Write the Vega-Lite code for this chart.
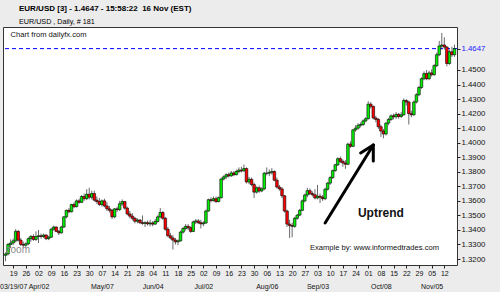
{
  "$schema": "https://vega.github.io/schema/vega-lite/v6.json",
  "width": 454,
  "height": 238,
  "autosize": "none",
  "padding": {"left": 3, "top": 27, "right": 43, "bottom": 27},
  "background": "#ececec",
  "title": {
    "text": "EUR/USD [3] - 1.4647 - 15:58:22\u00a0 16 Nov (EST)",
    "subtitle": "EUR/USD , Daily, # 181",
    "anchor": "start",
    "frame": "group",
    "offset": 2,
    "dx": 16,
    "font": "Liberation Sans",
    "fontSize": 8,
    "fontWeight": "bold",
    "color": "#000000",
    "subtitleFont": "Liberation Sans",
    "subtitleFontSize": 7.2,
    "subtitleColor": "#000000",
    "subtitlePadding": 5
  },
  "datasets": {
    "candles": [
      {"d":"2007-03-14","o":1.3225,"h":1.3245,"l":1.3185,"c":1.3235},
      {"d":"2007-03-15","o":1.3235,"h":1.3310,"l":1.3225,"c":1.3300},
      {"d":"2007-03-16","o":1.3300,"h":1.3335,"l":1.3275,"c":1.3310},
      {"d":"2007-03-19","o":1.3310,"h":1.3340,"l":1.3295,"c":1.3325},
      {"d":"2007-03-20","o":1.3325,"h":1.3405,"l":1.3315,"c":1.3390},
      {"d":"2007-03-21","o":1.3390,"h":1.3400,"l":1.3320,"c":1.3330},
      {"d":"2007-03-22","o":1.3330,"h":1.3345,"l":1.3290,"c":1.3300},
      {"d":"2007-03-23","o":1.3300,"h":1.3320,"l":1.3280,"c":1.3295},
      {"d":"2007-03-26","o":1.3295,"h":1.3315,"l":1.3280,"c":1.3305},
      {"d":"2007-03-27","o":1.3305,"h":1.3350,"l":1.3295,"c":1.3340},
      {"d":"2007-03-28","o":1.3340,"h":1.3365,"l":1.3320,"c":1.3355},
      {"d":"2007-03-29","o":1.3355,"h":1.3370,"l":1.3325,"c":1.3335},
      {"d":"2007-03-30","o":1.3335,"h":1.3390,"l":1.3325,"c":1.3355},
      {"d":"2007-04-02","o":1.3355,"h":1.3400,"l":1.3310,"c":1.3360},
      {"d":"2007-04-03","o":1.3360,"h":1.3375,"l":1.3340,"c":1.3355},
      {"d":"2007-04-04","o":1.3355,"h":1.3375,"l":1.3345,"c":1.3365},
      {"d":"2007-04-05","o":1.3365,"h":1.3370,"l":1.3330,"c":1.3340},
      {"d":"2007-04-06","o":1.3340,"h":1.3360,"l":1.3330,"c":1.3350},
      {"d":"2007-04-09","o":1.3350,"h":1.3415,"l":1.3345,"c":1.3405},
      {"d":"2007-04-10","o":1.3405,"h":1.3430,"l":1.3395,"c":1.3420},
      {"d":"2007-04-11","o":1.3420,"h":1.3425,"l":1.3385,"c":1.3390},
      {"d":"2007-04-12","o":1.3390,"h":1.3400,"l":1.3365,"c":1.3380},
      {"d":"2007-04-13","o":1.3380,"h":1.3430,"l":1.3375,"c":1.3420},
      {"d":"2007-04-16","o":1.3420,"h":1.3495,"l":1.3415,"c":1.3490},
      {"d":"2007-04-17","o":1.3490,"h":1.3540,"l":1.3480,"c":1.3535},
      {"d":"2007-04-18","o":1.3535,"h":1.3550,"l":1.3515,"c":1.3525},
      {"d":"2007-04-19","o":1.3525,"h":1.3580,"l":1.3520,"c":1.3575},
      {"d":"2007-04-20","o":1.3575,"h":1.3590,"l":1.3550,"c":1.3560},
      {"d":"2007-04-23","o":1.3560,"h":1.3610,"l":1.3555,"c":1.3600},
      {"d":"2007-04-24","o":1.3600,"h":1.3615,"l":1.3580,"c":1.3590},
      {"d":"2007-04-25","o":1.3590,"h":1.3640,"l":1.3585,"c":1.3630},
      {"d":"2007-04-26","o":1.3630,"h":1.3650,"l":1.3600,"c":1.3615},
      {"d":"2007-04-27","o":1.3615,"h":1.3680,"l":1.3605,"c":1.3645},
      {"d":"2007-04-30","o":1.3645,"h":1.3690,"l":1.3610,"c":1.3625},
      {"d":"2007-05-01","o":1.3625,"h":1.3670,"l":1.3610,"c":1.3650},
      {"d":"2007-05-02","o":1.3650,"h":1.3670,"l":1.3595,"c":1.3605},
      {"d":"2007-05-03","o":1.3605,"h":1.3630,"l":1.3580,"c":1.3595},
      {"d":"2007-05-04","o":1.3595,"h":1.3620,"l":1.3565,"c":1.3575},
      {"d":"2007-05-07","o":1.3575,"h":1.3610,"l":1.3560,"c":1.3600},
      {"d":"2007-05-08","o":1.3600,"h":1.3615,"l":1.3555,"c":1.3565},
      {"d":"2007-05-09","o":1.3565,"h":1.3590,"l":1.3530,"c":1.3545},
      {"d":"2007-05-10","o":1.3545,"h":1.3565,"l":1.3520,"c":1.3535},
      {"d":"2007-05-11","o":1.3535,"h":1.3545,"l":1.3475,"c":1.3490},
      {"d":"2007-05-14","o":1.3490,"h":1.3550,"l":1.3480,"c":1.3545},
      {"d":"2007-05-15","o":1.3545,"h":1.3560,"l":1.3525,"c":1.3540},
      {"d":"2007-05-16","o":1.3540,"h":1.3600,"l":1.3530,"c":1.3580},
      {"d":"2007-05-17","o":1.3580,"h":1.3610,"l":1.3565,"c":1.3595},
      {"d":"2007-05-18","o":1.3595,"h":1.3600,"l":1.3540,"c":1.3550},
      {"d":"2007-05-21","o":1.3550,"h":1.3560,"l":1.3500,"c":1.3510},
      {"d":"2007-05-22","o":1.3510,"h":1.3530,"l":1.3480,"c":1.3495},
      {"d":"2007-05-23","o":1.3495,"h":1.3515,"l":1.3465,"c":1.3480},
      {"d":"2007-05-24","o":1.3480,"h":1.3490,"l":1.3445,"c":1.3460},
      {"d":"2007-05-25","o":1.3460,"h":1.3480,"l":1.3445,"c":1.3468},
      {"d":"2007-05-28","o":1.3468,"h":1.3475,"l":1.3440,"c":1.3450},
      {"d":"2007-05-29","o":1.3450,"h":1.3500,"l":1.3435,"c":1.3445},
      {"d":"2007-05-30","o":1.3445,"h":1.3460,"l":1.3420,"c":1.3450},
      {"d":"2007-05-31","o":1.3450,"h":1.3465,"l":1.3430,"c":1.3442},
      {"d":"2007-06-01","o":1.3442,"h":1.3470,"l":1.3425,"c":1.3448},
      {"d":"2007-06-04","o":1.3448,"h":1.3460,"l":1.3425,"c":1.3440},
      {"d":"2007-06-05","o":1.3440,"h":1.3475,"l":1.3435,"c":1.3458},
      {"d":"2007-06-06","o":1.3458,"h":1.3500,"l":1.3450,"c":1.3490},
      {"d":"2007-06-07","o":1.3490,"h":1.3550,"l":1.3480,"c":1.3520},
      {"d":"2007-06-08","o":1.3520,"h":1.3530,"l":1.3470,"c":1.3480},
      {"d":"2007-06-11","o":1.3480,"h":1.3490,"l":1.3395,"c":1.3405},
      {"d":"2007-06-12","o":1.3405,"h":1.3420,"l":1.3350,"c":1.3360},
      {"d":"2007-06-13","o":1.3360,"h":1.3380,"l":1.3335,"c":1.3345},
      {"d":"2007-06-14","o":1.3345,"h":1.3365,"l":1.3265,"c":1.3330},
      {"d":"2007-06-15","o":1.3330,"h":1.3345,"l":1.3300,"c":1.3318},
      {"d":"2007-06-18","o":1.3318,"h":1.3335,"l":1.3295,"c":1.3325},
      {"d":"2007-06-19","o":1.3325,"h":1.3395,"l":1.3320,"c":1.3385},
      {"d":"2007-06-20","o":1.3385,"h":1.3420,"l":1.3375,"c":1.3410},
      {"d":"2007-06-21","o":1.3410,"h":1.3440,"l":1.3395,"c":1.3425},
      {"d":"2007-06-22","o":1.3425,"h":1.3440,"l":1.3400,"c":1.3415},
      {"d":"2007-06-25","o":1.3415,"h":1.3425,"l":1.3380,"c":1.3390},
      {"d":"2007-06-26","o":1.3390,"h":1.3465,"l":1.3385,"c":1.3455},
      {"d":"2007-06-27","o":1.3455,"h":1.3475,"l":1.3440,"c":1.3462},
      {"d":"2007-06-28","o":1.3462,"h":1.3475,"l":1.3440,"c":1.3450},
      {"d":"2007-06-29","o":1.3450,"h":1.3470,"l":1.3410,"c":1.3442},
      {"d":"2007-07-02","o":1.3442,"h":1.3460,"l":1.3425,"c":1.3448},
      {"d":"2007-07-03","o":1.3448,"h":1.3540,"l":1.3440,"c":1.3530},
      {"d":"2007-07-04","o":1.3530,"h":1.3615,"l":1.3525,"c":1.3608},
      {"d":"2007-07-05","o":1.3608,"h":1.3625,"l":1.3590,"c":1.3602},
      {"d":"2007-07-06","o":1.3602,"h":1.3630,"l":1.3595,"c":1.3615},
      {"d":"2007-07-09","o":1.3615,"h":1.3630,"l":1.3585,"c":1.3595},
      {"d":"2007-07-10","o":1.3595,"h":1.3630,"l":1.3590,"c":1.3622},
      {"d":"2007-07-11","o":1.3622,"h":1.3760,"l":1.3615,"c":1.3750},
      {"d":"2007-07-12","o":1.3750,"h":1.3775,"l":1.3740,"c":1.3765},
      {"d":"2007-07-13","o":1.3765,"h":1.3790,"l":1.3750,"c":1.3780},
      {"d":"2007-07-16","o":1.3780,"h":1.3795,"l":1.3760,"c":1.3772},
      {"d":"2007-07-17","o":1.3772,"h":1.3805,"l":1.3765,"c":1.3792},
      {"d":"2007-07-18","o":1.3792,"h":1.3805,"l":1.3770,"c":1.3780},
      {"d":"2007-07-19","o":1.3780,"h":1.3815,"l":1.3775,"c":1.3802},
      {"d":"2007-07-20","o":1.3802,"h":1.3830,"l":1.3790,"c":1.3812},
      {"d":"2007-07-23","o":1.3812,"h":1.3835,"l":1.3795,"c":1.3806},
      {"d":"2007-07-24","o":1.3806,"h":1.3850,"l":1.3800,"c":1.3822},
      {"d":"2007-07-25","o":1.3822,"h":1.3830,"l":1.3720,"c":1.3730},
      {"d":"2007-07-26","o":1.3730,"h":1.3765,"l":1.3715,"c":1.3748},
      {"d":"2007-07-27","o":1.3748,"h":1.3760,"l":1.3700,"c":1.3712},
      {"d":"2007-07-30","o":1.3712,"h":1.3725,"l":1.3620,"c":1.3660},
      {"d":"2007-07-31","o":1.3660,"h":1.3700,"l":1.3650,"c":1.3690},
      {"d":"2007-08-01","o":1.3690,"h":1.3705,"l":1.3655,"c":1.3668},
      {"d":"2007-08-02","o":1.3668,"h":1.3695,"l":1.3660,"c":1.3682},
      {"d":"2007-08-03","o":1.3682,"h":1.3800,"l":1.3675,"c":1.3790},
      {"d":"2007-08-06","o":1.3790,"h":1.3830,"l":1.3775,"c":1.3790},
      {"d":"2007-08-07","o":1.3790,"h":1.3815,"l":1.3770,"c":1.3796},
      {"d":"2007-08-08","o":1.3796,"h":1.3825,"l":1.3780,"c":1.3802},
      {"d":"2007-08-09","o":1.3802,"h":1.3810,"l":1.3735,"c":1.3742},
      {"d":"2007-08-10","o":1.3742,"h":1.3760,"l":1.3685,"c":1.3695},
      {"d":"2007-08-13","o":1.3695,"h":1.3710,"l":1.3670,"c":1.3682},
      {"d":"2007-08-14","o":1.3682,"h":1.3695,"l":1.3620,"c":1.3635},
      {"d":"2007-08-15","o":1.3635,"h":1.3640,"l":1.3520,"c":1.3530},
      {"d":"2007-08-16","o":1.3530,"h":1.3540,"l":1.3420,"c":1.3440},
      {"d":"2007-08-17","o":1.3440,"h":1.3470,"l":1.3345,"c":1.3430},
      {"d":"2007-08-20","o":1.3430,"h":1.3450,"l":1.3350,"c":1.3425},
      {"d":"2007-08-21","o":1.3425,"h":1.3490,"l":1.3415,"c":1.3480},
      {"d":"2007-08-22","o":1.3480,"h":1.3510,"l":1.3470,"c":1.3502},
      {"d":"2007-08-23","o":1.3502,"h":1.3545,"l":1.3495,"c":1.3535},
      {"d":"2007-08-24","o":1.3535,"h":1.3610,"l":1.3530,"c":1.3600},
      {"d":"2007-08-27","o":1.3600,"h":1.3650,"l":1.3590,"c":1.3640},
      {"d":"2007-08-28","o":1.3640,"h":1.3690,"l":1.3625,"c":1.3670},
      {"d":"2007-08-29","o":1.3670,"h":1.3685,"l":1.3640,"c":1.3650},
      {"d":"2007-08-30","o":1.3650,"h":1.3665,"l":1.3630,"c":1.3642},
      {"d":"2007-08-31","o":1.3642,"h":1.3680,"l":1.3610,"c":1.3620},
      {"d":"2007-09-03","o":1.3620,"h":1.3710,"l":1.3610,"c":1.3632},
      {"d":"2007-09-04","o":1.3632,"h":1.3650,"l":1.3585,"c":1.3625},
      {"d":"2007-09-05","o":1.3625,"h":1.3640,"l":1.3600,"c":1.3615},
      {"d":"2007-09-06","o":1.3615,"h":1.3690,"l":1.3605,"c":1.3680},
      {"d":"2007-09-07","o":1.3680,"h":1.3730,"l":1.3670,"c":1.3722},
      {"d":"2007-09-10","o":1.3722,"h":1.3770,"l":1.3710,"c":1.3760},
      {"d":"2007-09-11","o":1.3760,"h":1.3815,"l":1.3750,"c":1.3808},
      {"d":"2007-09-12","o":1.3808,"h":1.3855,"l":1.3800,"c":1.3848},
      {"d":"2007-09-13","o":1.3848,"h":1.3900,"l":1.3840,"c":1.3890},
      {"d":"2007-09-14","o":1.3890,"h":1.3905,"l":1.3860,"c":1.3872},
      {"d":"2007-09-17","o":1.3872,"h":1.3885,"l":1.3835,"c":1.3860},
      {"d":"2007-09-18","o":1.3860,"h":1.3880,"l":1.3820,"c":1.3852},
      {"d":"2007-09-19","o":1.3852,"h":1.4000,"l":1.3845,"c":1.3990},
      {"d":"2007-09-20","o":1.3990,"h":1.4010,"l":1.3965,"c":1.3975},
      {"d":"2007-09-21","o":1.3975,"h":1.4095,"l":1.3970,"c":1.4088},
      {"d":"2007-09-24","o":1.4088,"h":1.4120,"l":1.4075,"c":1.4100},
      {"d":"2007-09-25","o":1.4100,"h":1.4135,"l":1.4090,"c":1.4120},
      {"d":"2007-09-26","o":1.4120,"h":1.4140,"l":1.4105,"c":1.4125},
      {"d":"2007-09-27","o":1.4125,"h":1.4160,"l":1.4115,"c":1.4150},
      {"d":"2007-09-28","o":1.4150,"h":1.4175,"l":1.4140,"c":1.4165},
      {"d":"2007-10-01","o":1.4165,"h":1.4285,"l":1.4160,"c":1.4265},
      {"d":"2007-10-02","o":1.4265,"h":1.4280,"l":1.4235,"c":1.4250},
      {"d":"2007-10-03","o":1.4250,"h":1.4255,"l":1.4160,"c":1.4170},
      {"d":"2007-10-04","o":1.4170,"h":1.4185,"l":1.4140,"c":1.4160},
      {"d":"2007-10-05","o":1.4160,"h":1.4170,"l":1.4095,"c":1.4110},
      {"d":"2007-10-08","o":1.4110,"h":1.4125,"l":1.4040,"c":1.4080},
      {"d":"2007-10-09","o":1.4080,"h":1.4095,"l":1.4030,"c":1.4060},
      {"d":"2007-10-10","o":1.4060,"h":1.4140,"l":1.4050,"c":1.4135},
      {"d":"2007-10-11","o":1.4135,"h":1.4170,"l":1.4120,"c":1.4160},
      {"d":"2007-10-12","o":1.4160,"h":1.4195,"l":1.4150,"c":1.4185},
      {"d":"2007-10-15","o":1.4185,"h":1.4200,"l":1.4160,"c":1.4178},
      {"d":"2007-10-16","o":1.4178,"h":1.4210,"l":1.4165,"c":1.4195},
      {"d":"2007-10-17","o":1.4195,"h":1.4205,"l":1.4165,"c":1.4180},
      {"d":"2007-10-18","o":1.4180,"h":1.4210,"l":1.4170,"c":1.4192},
      {"d":"2007-10-19","o":1.4192,"h":1.4305,"l":1.4185,"c":1.4290},
      {"d":"2007-10-22","o":1.4290,"h":1.4300,"l":1.4255,"c":1.4280},
      {"d":"2007-10-23","o":1.4280,"h":1.4290,"l":1.4125,"c":1.4200},
      {"d":"2007-10-24","o":1.4200,"h":1.4220,"l":1.4175,"c":1.4192},
      {"d":"2007-10-25","o":1.4192,"h":1.4290,"l":1.4185,"c":1.4280},
      {"d":"2007-10-26","o":1.4280,"h":1.4340,"l":1.4270,"c":1.4330},
      {"d":"2007-10-29","o":1.4330,"h":1.4390,"l":1.4320,"c":1.4380},
      {"d":"2007-10-30","o":1.4380,"h":1.4450,"l":1.4370,"c":1.4440},
      {"d":"2007-10-31","o":1.4440,"h":1.4490,"l":1.4430,"c":1.4475},
      {"d":"2007-11-01","o":1.4475,"h":1.4500,"l":1.4430,"c":1.4440},
      {"d":"2007-11-02","o":1.4440,"h":1.4495,"l":1.4430,"c":1.4480},
      {"d":"2007-11-05","o":1.4480,"h":1.4505,"l":1.4455,"c":1.4468},
      {"d":"2007-11-06","o":1.4468,"h":1.4540,"l":1.4460,"c":1.4530},
      {"d":"2007-11-07","o":1.4530,"h":1.4620,"l":1.4520,"c":1.4605},
      {"d":"2007-11-08","o":1.4605,"h":1.4700,"l":1.4595,"c":1.4665},
      {"d":"2007-11-09","o":1.4665,"h":1.4755,"l":1.4640,"c":1.4672},
      {"d":"2007-11-12","o":1.4672,"h":1.4725,"l":1.4640,"c":1.4658},
      {"d":"2007-11-13","o":1.4658,"h":1.4665,"l":1.4525,"c":1.4545},
      {"d":"2007-11-14","o":1.4545,"h":1.4640,"l":1.4535,"c":1.4625},
      {"d":"2007-11-15","o":1.4625,"h":1.4660,"l":1.4590,"c":1.4605},
      {"d":"2007-11-16","o":1.4605,"h":1.4675,"l":1.4590,"c":1.4647}
    ],
    "arrow": [
      {"g": "shaft", "k": 0, "d": "2007-09-06", "p": 1.3448},
      {"g": "shaft", "k": 1, "d": "2007-10-03", "p": 1.3984},
      {"g": "left", "k": 0, "d": "2007-10-03", "p": 1.3984},
      {"g": "left", "k": 1, "d": "2007-09-26", "p": 1.3929},
      {"g": "down", "k": 0, "d": "2007-10-03", "p": 1.3984},
      {"g": "down", "k": 1, "d": "2007-10-03", "p": 1.3874}
    ],
    "notes": [
      {"d": "2007-03-16", "p": 1.4741, "t": "Chart from dailyfx.com"},
      {"d": "2007-08-29", "p": 1.3276, "t": "Example by: www.informedtrades.com"}
    ]
  },
  "layer": [
    {
      "data": {"name": "candles"},
      "mark": {"type": "rule", "color": "#6a6a6a", "strokeWidth": 1},
      "encoding": {
        "x": {
          "field": "d", "type": "ordinal",
          "scale": {"type": "point", "padding": 1.85},
          "axis": {
            "title": null,
            "values": ["2007-03-19","2007-03-26","2007-04-02","2007-04-09","2007-04-16","2007-04-23","2007-04-30","2007-05-07","2007-05-14","2007-05-21","2007-05-28","2007-06-04","2007-06-11","2007-06-18","2007-06-25","2007-07-02","2007-07-09","2007-07-16","2007-07-23","2007-07-30","2007-08-06","2007-08-13","2007-08-20","2007-08-27","2007-09-03","2007-09-10","2007-09-17","2007-09-24","2007-10-01","2007-10-08","2007-10-15","2007-10-22","2007-10-29","2007-11-05","2007-11-12"],
            "labelExpr": "[substring(datum.value, 8, 10), datum.value == '2007-03-19' ? '\u00a0\u00a0\u00a0\u00a003/19/07' : (indexof(['2007-04-02','2007-05-07','2007-06-04','2007-07-02','2007-08-06','2007-09-03','2007-10-08','2007-11-05'], datum.value) >= 0 ? utcFormat(toDate(datum.value), '%b/%d') : '')]",
            "labelAngle": 0,
            "labelFontSize": 7,
            "labelPadding": 1,
            "labelLineHeight": 13,
            "labelOverlap": false,
            "labelBound": false,
            "labelFlush": false,
            "tickSize": 3,
            "domain": false,
            "grid": false
          }
        },
        "y": {
          "field": "l", "type": "quantitative", "title": null,
          "scale": {"domain": [1.31589, 1.47957], "nice": false, "zero": false},
          "axis": {"orient": "right", "title": null, "values": [1.32, 1.33, 1.34, 1.35, 1.36, 1.37, 1.38, 1.39, 1.40, 1.41, 1.42, 1.43, 1.44, 1.45, 1.4647], "format": ".4f", "labelFontSize": 7.8, "labelPadding": 1, "labelOverlap": false, "labelBound": false, "labelFlush": false, "tickSize": 3, "domain": false, "grid": false, "labelColor": {"condition": {"test": "datum.value > 1.46", "value": "#2020ff"}, "value": "#111111"}}
        },
        "y2": {"field": "h"}
      }
    },
    {
      "data": {"values": [{"last": 1.4647}]},
      "mark": {"type": "rule", "color": "#0000ff", "strokeDash": [4, 3], "strokeWidth": 1},
      "encoding": {
        "y": {"field": "last", "type": "quantitative", "title": null,
          "axis": {"orient": "right", "title": null, "values": [1.32, 1.33, 1.34, 1.35, 1.36, 1.37, 1.38, 1.39, 1.40, 1.41, 1.42, 1.43, 1.44, 1.45, 1.4647], "format": ".4f", "labelFontSize": 7.8, "labelPadding": 1, "labelOverlap": false, "labelBound": false, "labelFlush": false, "tickSize": 3, "domain": false, "grid": false, "labelColor": {"condition": {"test": "datum.value > 1.46", "value": "#2020ff"}, "value": "#111111"}}}
      }
    },
    {
      "data": {"name": "candles"},
      "mark": {"type": "bar", "size": 2.6, "stroke": "#000000", "strokeWidth": 0.6},
      "encoding": {
        "x": {"field": "d", "type": "ordinal", "scale": {"type": "point", "padding": 1.85}},
        "y": {"field": "o", "type": "quantitative", "title": null,
          "axis": {"orient": "right", "title": null, "values": [1.32, 1.33, 1.34, 1.35, 1.36, 1.37, 1.38, 1.39, 1.40, 1.41, 1.42, 1.43, 1.44, 1.45, 1.4647], "format": ".4f", "labelFontSize": 7.8, "labelPadding": 1, "labelOverlap": false, "labelBound": false, "labelFlush": false, "tickSize": 3, "domain": false, "grid": false, "labelColor": {"condition": {"test": "datum.value > 1.46", "value": "#2020ff"}, "value": "#111111"}}},
        "y2": {"field": "c"},
        "fill": {"condition": {"test": "datum.c >= datum.o", "value": "#00f000"}, "value": "#ff0000"}
      }
    },
    {
      "data": {"values": [{"d": "2007-03-14", "p": 1.3262, "t": "zoom"}]},
      "mark": {"type": "text", "align": "left", "baseline": "middle", "fontSize": 10, "color": "#8a8a8a"},
      "encoding": {
        "x": {"field": "d", "type": "ordinal", "scale": {"type": "point", "padding": 1.85}},
        "y": {"field": "p", "type": "quantitative", "title": null,
          "axis": {"orient": "right", "title": null, "values": [1.32, 1.33, 1.34, 1.35, 1.36, 1.37, 1.38, 1.39, 1.40, 1.41, 1.42, 1.43, 1.44, 1.45, 1.4647], "format": ".4f", "labelFontSize": 7.8, "labelPadding": 1, "labelOverlap": false, "labelBound": false, "labelFlush": false, "tickSize": 3, "domain": false, "grid": false, "labelColor": {"condition": {"test": "datum.value > 1.46", "value": "#2020ff"}, "value": "#111111"}}},
        "text": {"field": "t"}
      }
    },
    {
      "data": {"name": "arrow"},
      "mark": {"type": "line", "color": "#000000", "strokeWidth": 3, "strokeCap": "round", "strokeJoin": "round"},
      "encoding": {
        "x": {"field": "d", "type": "ordinal", "scale": {"type": "point", "padding": 1.85}},
        "y": {"field": "p", "type": "quantitative", "title": null,
          "axis": {"orient": "right", "title": null, "values": [1.32, 1.33, 1.34, 1.35, 1.36, 1.37, 1.38, 1.39, 1.40, 1.41, 1.42, 1.43, 1.44, 1.45, 1.4647], "format": ".4f", "labelFontSize": 7.8, "labelPadding": 1, "labelOverlap": false, "labelBound": false, "labelFlush": false, "tickSize": 3, "domain": false, "grid": false, "labelColor": {"condition": {"test": "datum.value > 1.46", "value": "#2020ff"}, "value": "#111111"}}},
        "detail": {"field": "g"},
        "order": {"field": "k"}
      }
    },
    {
      "data": {"name": "notes"},
      "mark": {"type": "text", "align": "left", "baseline": "middle", "fontSize": 7.6, "color": "#111111"},
      "encoding": {
        "x": {"field": "d", "type": "ordinal", "scale": {"type": "point", "padding": 1.85}},
        "y": {"field": "p", "type": "quantitative", "title": null,
          "axis": {"orient": "right", "title": null, "values": [1.32, 1.33, 1.34, 1.35, 1.36, 1.37, 1.38, 1.39, 1.40, 1.41, 1.42, 1.43, 1.44, 1.45, 1.4647], "format": ".4f", "labelFontSize": 7.8, "labelPadding": 1, "labelOverlap": false, "labelBound": false, "labelFlush": false, "tickSize": 3, "domain": false, "grid": false, "labelColor": {"condition": {"test": "datum.value > 1.46", "value": "#2020ff"}, "value": "#111111"}}},
        "text": {"field": "t"}
      }
    },
    {
      "data": {"values": [
        {"d": "2007-10-08", "p": 1.3519, "t": "Uptrend"}
      ]},
      "mark": {"type": "text", "align": "center", "baseline": "middle", "fontSize": 12, "fontWeight": "bold", "color": "#111111"},
      "encoding": {
        "x": {"field": "d", "type": "ordinal", "scale": {"type": "point", "padding": 1.85}},
        "y": {"field": "p", "type": "quantitative", "title": null,
          "axis": {"orient": "right", "title": null, "values": [1.32, 1.33, 1.34, 1.35, 1.36, 1.37, 1.38, 1.39, 1.40, 1.41, 1.42, 1.43, 1.44, 1.45, 1.4647], "format": ".4f", "labelFontSize": 7.8, "labelPadding": 1, "labelOverlap": false, "labelBound": false, "labelFlush": false, "tickSize": 3, "domain": false, "grid": false, "labelColor": {"condition": {"test": "datum.value > 1.46", "value": "#2020ff"}, "value": "#111111"}}},
        "text": {"field": "t"}
      }
    }
  ],
  "config": {
    "font": "Liberation Sans",
    "view": {"fill": "#ffffff", "stroke": "#333333", "strokeWidth": 1},
    "axis": {"labelFont": "Liberation Sans", "labelColor": "#111111", "tickColor": "#222222"},
    "axisY": {"labelOverlap": false},
    "axisX": {"labelOverlap": false}
  }
}
